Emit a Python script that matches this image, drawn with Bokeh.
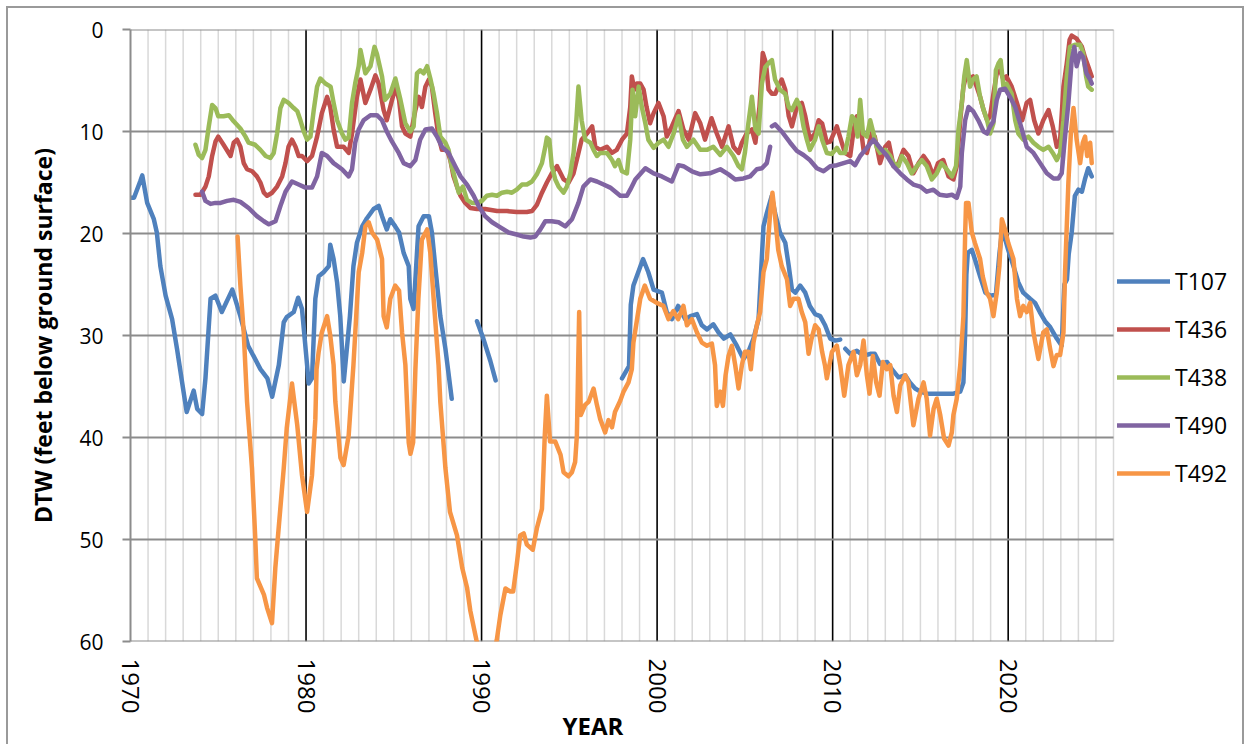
import math
import numpy as np
from bokeh.plotting import figure
from bokeh.models import Range1d, SingleIntervalTicker, Legend, LegendItem, Title
from bokeh.embed import file_html
from bokeh.resources import INLINE

nan = float("nan")

# ---------------- data ----------------
T107_year = [1970.0, 1970.2, 1970.55, 1970.67, 1970.95, 1971.33, 1971.5, 1971.7, 1972.0, 1972.37,
             1972.65, 1972.94, 1973.2, 1973.6, 1973.8, 1974.08, 1974.27, 1974.56, 1974.84, 1975.2,
             1975.8, 1976.26, 1976.7, 1977.4, 1977.8, 1978.07, 1978.45, 1978.73, 1978.9, 1979.3,
             1979.55, 1979.77, 1980.06, 1980.15, 1980.34, 1980.53, 1980.72, 1981.0, 1981.3, 1981.38,
             1981.57, 1981.77, 1981.95, 1982.15, 1982.5, 1982.7, 1982.9, 1983.2, 1983.47, 1983.85,
             1984.14, 1984.33, 1984.6, 1984.8, 1985.08, 1985.3, 1985.56, 1985.85, 1985.94, 1986.13,
             1986.41, 1986.7, 1987.0, 1987.17, 1987.36, 1987.65, 1987.94, 1988.3, nan,
             1989.74, 1990.1, 1990.5, 1990.8, nan,
             1998.0, 1998.4, 1998.5, 1998.65, 1999.2, 1999.5, 1999.8, 2000.27, 2000.55, 2000.84,
             2001.2, 2001.6, 2001.9, 2002.27, 2002.55, 2002.84, 2003.2, 2003.5, 2003.8, 2004.17,
             2004.54, 2004.92, 2005.2, 2005.49, 2005.78, 2005.9, 2006.06, 2006.25, 2006.53, 2006.72,
             2007.0, 2007.3, 2007.5, 2007.68, 2007.87, 2008.15, 2008.44, 2008.7, 2009.0, 2009.29,
             2009.57, 2009.86, 2010.15, 2010.43, nan,
             2010.72, 2011.0, 2011.38, 2011.76, 2012.14, 2012.4, 2012.7, 2013.1, 2013.37, 2013.75,
             2014.13, 2014.4, 2014.7, 2015.0, 2015.36, 2015.84, 2016.3, 2016.88, 2017.27, 2017.45,
             2017.55, 2017.62, 2017.7, 2017.93, 2018.1, 2018.4, 2018.7, 2018.97, 2019.3, 2019.5,
             2019.64, 2019.82, 2020.0, 2020.3, 2020.58, 2020.86, 2021.25, 2021.53, 2021.8, 2022.1,
             2022.4, 2022.77, 2023.05, 2023.2, 2023.35, 2023.45, 2023.62, 2023.8, 2024.0, 2024.2,
             2024.37, 2024.56, 2024.76]
T107_dtw = [16.5, 16.5, 14.9, 14.3, 17.0, 18.6, 19.9, 23.2, 26.1, 28.4,
            31.3, 34.6, 37.5, 35.4, 37.2, 37.7, 34.2, 26.4, 26.1, 27.7,
            25.5, 28.1, 31.0, 33.3, 34.2, 36.0, 32.9, 28.7, 28.2, 27.7,
            26.3, 27.4, 32.9, 34.7, 34.2, 26.4, 24.2, 23.8, 23.2, 21.1,
            22.5, 24.8, 28.1, 34.5, 28.1, 23.2, 20.9, 19.3, 18.5, 17.6,
            17.3, 18.3, 19.6, 18.6, 19.3, 19.9, 21.9, 23.2, 26.4, 27.4,
            19.3, 18.3, 18.3, 19.9, 23.2, 28.1, 31.3, 36.2, nan,
            28.6, 30.3, 32.5, 34.4, nan,
            34.2, 33.0, 27.0, 25.1, 22.5, 23.8, 25.5, 25.8, 27.7, 28.4,
            27.1, 28.4, 28.1, 27.9, 29.0, 29.4, 28.9, 29.7, 30.3, 29.9,
            31.0, 32.3, 31.6, 30.3, 28.4, 24.5, 19.3, 18.0, 16.3, 18.0,
            19.9, 20.9, 23.2, 25.5, 25.8, 25.1, 25.8, 27.1, 27.9, 28.1,
            29.0, 30.3, 30.5, 30.4, nan,
            31.3, 31.8, 31.5, 32.0, 31.8, 31.8, 32.8, 32.6, 33.3, 34.1,
            33.9, 34.6, 35.2, 35.5, 35.7, 35.7, 35.7, 35.7, 35.5, 34.6,
            29.7, 24.0, 21.9, 21.6, 22.5, 24.2, 25.8, 26.1, 26.0, 22.0,
            19.9, 20.5, 21.6, 23.2, 24.8, 25.8, 26.4, 26.8, 27.7, 28.6,
            29.2, 30.3, 31.0, 25.0, 24.5, 22.0, 19.9, 16.3, 15.7, 15.9,
            14.7, 13.6, 14.4]

T436_year = [1973.7, 1973.99, 1974.27, 1974.46, 1974.65, 1974.84, 1975.0, 1975.3, 1975.7, 1975.88,
             1976.07, 1976.26, 1976.45, 1976.64, 1976.93, 1977.2, 1977.4, 1977.6, 1977.78, 1978.07,
             1978.35, 1978.64, 1978.83, 1979.0, 1979.2, 1979.4, 1979.58, 1979.77, 1980.06, 1980.34,
             1980.63, 1980.9, 1981.2, 1981.38, 1981.57, 1981.77, 1982.14, 1982.43, 1982.62, 1982.9,
             1983.1, 1983.38, 1983.67, 1983.95, 1984.14, 1984.42, 1984.6, 1984.9, 1985.1, 1985.3,
             1985.47, 1985.66, 1985.94, 1986.23, 1986.42, 1986.6, 1986.8, 1987.0, 1987.17, 1987.36,
             1987.55, 1987.74, 1988.03, 1988.22, 1988.4, 1988.6, 1988.8, 1989.07, 1989.36, 1989.74,
             1990.2, 1990.88, 1991.45, 1992.0, 1992.58, 1992.87, 1993.15, 1993.44, 1993.72, 1994.0,
             1994.3, 1994.5, 1994.68, 1994.96, 1995.24, 1995.52, 1995.7, 1996.0, 1996.3, 1996.48,
             1996.76, 1997.14, 1997.43, 1997.7, 1998.0, 1998.28, 1998.47, 1998.56, 1998.7, 1998.85,
             1999.04, 1999.23, 1999.4, 1999.6, 1999.8, 2000.08, 2000.37, 2000.55, 2000.84, 2001.22,
             2001.5, 2001.8, 2002.17, 2002.46, 2002.73, 2003.1, 2003.4, 2003.7, 2004.07, 2004.35,
             2004.64, 2004.83, 2005.1, 2005.4, 2005.6, 2005.83, 2006.02, 2006.2, 2006.35, 2006.54,
             2006.73, 2006.9, 2007.1, 2007.3, 2007.5, 2007.68, 2007.96, 2008.24, 2008.44, 2008.7,
             2009.0, 2009.2, 2009.4, 2009.67, 2009.86, 2010.24, 2010.52, 2010.7, 2011.0, 2011.2,
             2011.38, 2011.57, 2011.76, 2011.95, 2012.23, 2012.4, 2012.7, 2013.0, 2013.2, 2013.47,
             2013.75, 2014.04, 2014.32, 2014.6, 2014.9, 2015.18, 2015.46, 2015.74, 2016.0, 2016.3,
             2016.6, 2016.88, 2017.07, 2017.27, 2017.45, 2017.64, 2017.83, 2018.0, 2018.2, 2018.4,
             2018.6, 2018.8, 2018.97, 2019.16, 2019.35, 2019.54, 2019.73, 2019.9, 2020.2, 2020.5,
             2020.8, 2021.05, 2021.25, 2021.48, 2021.72, 2022.0, 2022.3, 2022.54, 2022.77, 2022.96,
             2023.15, 2023.34, 2023.5, 2023.62, 2023.9, 2024.2, 2024.37, 2024.56, 2024.76]
T436_dtw = [16.2, 16.2, 15.4, 14.4, 12.4, 11.0, 10.5, 11.3, 12.4, 11.1,
            10.8, 11.5, 13.1, 13.7, 13.9, 14.4, 15.0, 16.0, 16.3, 16.0,
            15.4, 14.4, 13.1, 11.5, 10.8, 11.5, 12.4, 12.4, 12.9, 12.4,
            10.5, 8.2, 6.6, 7.6, 9.8, 11.5, 11.5, 12.1, 10.2, 6.6,
            4.9, 7.2, 5.9, 4.5, 5.3, 7.9, 8.9, 6.9, 5.6, 6.9,
            9.5, 10.2, 10.5, 7.9, 6.6, 7.6, 5.6, 4.9, 5.6, 8.2,
            10.5, 11.8, 11.8, 12.8, 14.4, 15.4, 16.3, 17.0, 17.5, 17.6,
            17.6, 17.8, 17.8, 17.9, 17.9, 17.8, 17.2, 16.0, 15.0, 14.1,
            13.4, 14.1, 14.7, 15.0, 14.1, 12.1, 10.8, 10.2, 9.5, 11.5,
            11.8, 11.5, 12.1, 11.8, 10.8, 10.2, 7.6, 4.6, 5.9, 5.3,
            5.3, 5.9, 7.6, 9.2, 8.2, 7.2, 8.5, 10.5, 9.5, 8.0,
            9.8, 10.8, 8.2, 9.2, 10.8, 8.7, 10.2, 11.5, 9.5, 11.5,
            12.1, 11.1, 10.2, 9.8, 11.1, 7.6, 2.3, 3.3, 5.9, 6.3,
            6.3, 5.6, 4.9, 5.9, 8.5, 9.5, 7.6, 7.2, 8.5, 10.8,
            10.2, 8.9, 9.2, 11.1, 11.0, 9.5, 11.1, 12.1, 12.4, 9.8,
            8.5, 9.2, 11.8, 12.1, 10.2, 10.5, 13.1, 11.5, 11.1, 13.4,
            13.1, 11.8, 12.4, 14.1, 13.1, 12.4, 13.1, 14.4, 13.1, 12.8,
            14.4, 14.7, 13.4, 8.9, 5.6, 4.3, 4.8, 4.6, 5.6, 6.6,
            7.9, 8.9, 8.5, 6.3, 4.3, 4.0, 4.9, 4.6, 5.6, 7.2,
            8.9, 7.2, 6.9, 8.9, 10.2, 8.9, 7.9, 9.5, 11.5, 10.8,
            5.6, 3.3, 1.0, 0.6, 0.9, 1.7, 2.7, 3.6, 4.6]

T438_year = [1973.7, 1973.89, 1974.08, 1974.27, 1974.46, 1974.65, 1974.84, 1975.0, 1975.3, 1975.6,
             1975.88, 1976.26, 1976.55, 1976.73, 1977.1, 1977.4, 1977.7, 1977.97, 1978.16, 1978.35,
             1978.54, 1978.73, 1979.0, 1979.3, 1979.5, 1979.68, 1979.87, 1980.06, 1980.25, 1980.44,
             1980.63, 1980.82, 1981.1, 1981.4, 1981.57, 1981.77, 1982.05, 1982.24, 1982.43, 1982.62,
             1982.8, 1983.0, 1983.1, 1983.38, 1983.67, 1983.9, 1984.04, 1984.33, 1984.5, 1984.8,
             1985.09, 1985.38, 1985.66, 1985.94, 1986.13, 1986.32, 1986.5, 1986.7, 1986.9, 1987.08,
             1987.27, 1987.46, 1987.65, 1987.94, 1988.12, 1988.3, 1988.5, 1988.7, 1988.94, 1989.17,
             1989.45, 1989.74, 1990.02, 1990.3, 1990.6, 1990.88, 1991.16, 1991.45, 1991.73, 1992.0,
             1992.3, 1992.58, 1992.87, 1993.15, 1993.44, 1993.63, 1993.72, 1993.86, 1994.0, 1994.2,
             1994.39, 1994.67, 1994.86, 1995.06, 1995.24, 1995.4, 1995.52, 1995.7, 1995.9, 1996.2,
             1996.38, 1996.57, 1996.76, 1997.14, 1997.43, 1997.6, 1997.8, 1998.0, 1998.28, 1998.47,
             1998.6, 1998.75, 1998.95, 1999.13, 1999.33, 1999.5, 1999.8, 2000.08, 2000.37, 2000.65,
             2000.94, 2001.22, 2001.47, 2001.7, 2002.07, 2002.46, 2002.84, 2003.2, 2003.6, 2003.97,
             2004.35, 2004.64, 2004.83, 2005.0, 2005.2, 2005.4, 2005.6, 2005.78, 2005.97, 2006.16,
             2006.35, 2006.54, 2006.72, 2007.0, 2007.3, 2007.5, 2007.68, 2007.96, 2008.15, 2008.34,
             2008.53, 2008.7, 2009.0, 2009.2, 2009.4, 2009.67, 2009.96, 2010.24, 2010.43, 2010.7,
             2010.9, 2011.1, 2011.28, 2011.42, 2011.57, 2011.73, 2011.95, 2012.14, 2012.33, 2012.5,
             2012.7, 2013.0, 2013.28, 2013.47, 2013.75, 2013.94, 2014.23, 2014.5, 2014.8, 2015.08,
             2015.36, 2015.65, 2015.93, 2016.2, 2016.5, 2016.8, 2017.03, 2017.17, 2017.36, 2017.5,
             2017.64, 2017.83, 2018.0, 2018.2, 2018.4, 2018.6, 2018.8, 2018.97, 2019.16, 2019.3,
             2019.45, 2019.57, 2019.73, 2019.9, 2020.2, 2020.4, 2020.58, 2020.86, 2021.15, 2021.44,
             2021.72, 2022.0, 2022.3, 2022.54, 2022.77, 2022.96, 2023.15, 2023.34, 2023.52, 2023.8,
             2024.1, 2024.27, 2024.44, 2024.56, 2024.76]
T438_dtw = [11.3, 12.3, 12.6, 11.8, 9.5, 7.4, 7.7, 8.5, 8.5, 8.4,
            9.0, 9.7, 10.5, 11.1, 11.3, 11.8, 12.4, 12.6, 12.1, 10.2,
            7.7, 6.9, 7.2, 7.7, 8.0, 8.9, 10.0, 10.8, 10.5, 7.9,
            5.6, 4.8, 5.3, 5.6, 7.2, 8.9, 10.2, 10.8, 10.6, 7.2,
            5.3, 3.6, 2.0, 4.3, 3.6, 1.7, 2.4, 4.6, 6.9, 6.3,
            4.8, 6.9, 9.2, 10.0, 9.5, 4.3, 4.0, 4.3, 3.6, 4.8,
            6.3, 8.2, 10.5, 11.1, 11.8, 13.4, 14.7, 16.0, 15.4, 16.7,
            17.0, 17.0, 16.8, 16.3, 16.2, 16.3, 16.0, 15.9, 16.0, 15.7,
            15.2, 15.2, 14.9, 14.2, 13.1, 11.5, 10.6, 10.8, 13.4, 14.7,
            15.4, 16.0, 15.4, 14.1, 12.1, 8.9, 5.6, 8.9, 10.8, 11.1,
            11.8, 12.4, 12.1, 12.1, 12.8, 13.4, 12.8, 13.9, 14.1, 10.8,
            5.9, 8.5, 5.6, 7.6, 9.2, 10.8, 11.6, 11.1, 10.8, 11.5,
            10.2, 8.5, 10.8, 11.5, 10.8, 11.8, 11.8, 11.5, 12.3, 11.5,
            12.4, 13.4, 13.7, 12.1, 9.2, 6.6, 9.8, 10.2, 5.3, 3.7,
            3.3, 3.0, 4.9, 5.9, 6.3, 7.6, 7.9, 6.9, 7.6, 9.5,
            10.8, 11.8, 10.8, 9.5, 10.8, 12.1, 12.2, 11.6, 12.1, 12.1,
            10.5, 8.5, 8.9, 10.5, 6.9, 10.2, 10.5, 8.9, 10.2, 11.5,
            12.1, 11.8, 12.4, 13.1, 13.4, 12.4, 13.1, 14.1, 13.4, 12.8,
            13.4, 14.7, 14.1, 13.1, 13.7, 14.4, 13.4, 9.8, 7.2, 4.6,
            3.0, 5.6, 4.9, 4.6, 6.6, 7.9, 8.9, 10.2, 9.2, 4.0,
            3.3, 3.0, 5.6, 5.3, 6.3, 8.9, 10.2, 10.8, 10.5, 11.1,
            11.5, 11.8, 11.5, 12.1, 12.8, 12.1, 8.9, 4.6, 1.7, 1.5,
            1.5, 2.3, 4.6, 5.6, 5.9]

T490_year = [1974.08, 1974.27, 1974.56, 1974.84, 1975.13, 1975.5, 1975.88, 1976.26, 1976.73, 1977.2,
             1977.6, 1977.88, 1978.26, 1978.54, 1978.83, 1979.2, 1979.58, 1979.97, 1980.34, 1980.63,
             1980.9, 1981.2, 1981.57, 1982.05, 1982.43, 1982.62, 1982.8, 1983.0, 1983.28, 1983.67,
             1984.04, 1984.33, 1984.6, 1984.9, 1985.28, 1985.56, 1985.94, 1986.23, 1986.5, 1986.8,
             1987.17, 1987.46, 1987.74, 1988.12, 1988.5, 1988.8, 1989.17, 1989.55, 1989.83, 1990.2,
             1990.6, 1991.07, 1991.54, 1992.0, 1992.4, 1992.78, 1993.06, 1993.35, 1993.63, 1994.0,
             1994.39, 1994.77, 1995.15, 1995.52, 1995.8, 1996.2, 1996.57, 1996.95, 1997.33, 1997.9,
             1998.28, 1998.47, 1998.76, 1999.33, 1999.8, 2000.27, 2000.84, 2001.22, 2001.5, 2001.98,
             2002.46, 2003.0, 2003.6, 2004.07, 2004.45, 2004.92, 2005.3, 2005.68, 2005.97, 2006.25,
             2006.44, nan,
             2006.54, 2006.72, 2007.1, 2007.58, 2007.96, 2008.34, 2008.7, 2009.1, 2009.48, 2009.86,
             2010.24, 2010.62, 2011.0, 2011.28, 2011.57, 2011.95, 2012.33, 2012.7, 2013.1, 2013.47,
             2013.85, 2014.23, 2014.6, 2014.99, 2015.36, 2015.74, 2016.1, 2016.5, 2016.8, 2017.07,
             2017.27, 2017.36, 2017.55, 2017.74, 2018.0, 2018.3, 2018.6, 2018.8, 2018.97, 2019.16,
             2019.35, 2019.54, 2019.82, 2020.1, 2020.4, 2020.68, 2021.06, 2021.44, 2021.82, 2022.2,
             2022.58, 2022.86, 2023.05, 2023.24, 2023.43, 2023.62, 2023.77, 2023.9, 2024.1, 2024.27,
             2024.46, 2024.67, 2024.76]
T490_dtw = [15.9, 16.8, 17.1, 17.0, 17.0, 16.8, 16.7, 16.9, 17.5, 18.3,
            18.8, 19.1, 18.8, 17.3, 15.9, 14.9, 15.2, 15.5, 15.5, 14.4,
            12.1, 12.4, 13.1, 13.7, 14.4, 13.7, 11.1, 9.8, 8.9, 8.4,
            8.4, 8.9, 10.0, 11.0, 12.1, 13.1, 13.4, 12.8, 10.8, 9.8,
            9.7, 10.5, 11.5, 12.1, 13.4, 14.4, 15.2, 16.3, 17.3, 18.3,
            18.9, 19.4, 19.9, 20.1, 20.3, 20.4, 20.3, 19.6, 18.8, 18.8,
            18.9, 19.3, 18.6, 17.0, 15.4, 14.7, 14.9, 15.2, 15.5, 16.3,
            16.3, 15.7, 14.7, 13.6, 14.1, 14.4, 14.9, 13.3, 13.4, 13.9,
            14.2, 14.1, 13.7, 14.2, 14.7, 14.6, 14.4, 13.7, 13.6, 13.1,
            11.5, nan,
            9.5, 9.3, 10.0, 11.1, 11.9, 12.3, 12.8, 13.6, 13.9, 13.4,
            13.3, 13.1, 12.9, 13.3, 12.4, 11.6, 10.8, 11.6, 12.4, 13.4,
            14.1, 14.7, 15.2, 15.4, 15.9, 15.7, 16.2, 16.3, 16.2, 16.5,
            15.4, 12.1, 8.9, 7.6, 8.0, 8.9, 10.0, 10.2, 9.5, 9.0,
            6.9, 5.9, 5.8, 6.6, 7.6, 9.2, 11.5, 12.1, 13.1, 14.1,
            14.6, 14.6, 14.1, 10.5, 7.2, 3.0, 1.7, 3.6, 2.3, 2.7,
            4.3, 4.9, 5.3]

T492_year = [1976.1, 1976.26, 1976.45, 1976.64, 1976.92, 1977.1, 1977.2, 1977.6, 1977.78, 1978.06,
             1978.25, 1978.44, 1978.73, 1978.9, 1979.2, 1979.5, 1979.77, 1980.06, 1980.34, 1980.53,
             1980.6, 1980.72, 1980.9, 1981.2, 1981.38, 1981.57, 1981.67, 1981.96, 1982.14, 1982.43,
             1982.62, 1982.7, 1983.0, 1983.2, 1983.38, 1983.57, 1983.76, 1984.05, 1984.33, 1984.42,
             1984.6, 1984.8, 1985.08, 1985.3, 1985.47, 1985.66, 1985.85, 1985.95, 1986.1, 1986.23,
             1986.4, 1986.6, 1986.9, 1987.08, 1987.27, 1987.55, 1987.65, 1987.94, 1988.2, 1988.6,
             1988.9, 1989.17, 1989.36, 1989.7, 1990.0, 1990.5, 1990.87, 1991.07, 1991.36, 1991.64,
             1991.8, 1992.0, 1992.2, 1992.4, 1992.58, 1992.92, 1993.15, 1993.44, 1993.53, 1993.6,
             1993.72, 1993.9, 1994.2, 1994.5, 1994.67, 1994.95, 1995.15, 1995.33, 1995.43, 1995.5,
             1995.56, 1995.65, 1995.9, 1996.1, 1996.38, 1996.57, 1996.76, 1997.04, 1997.23, 1997.43,
             1997.6, 1997.9, 1998.09, 1998.37, 1998.56, 1998.65, 1999.04, 1999.3, 1999.6, 1999.98,
             2000.36, 2000.65, 2000.93, 2001.2, 2001.5, 2001.7, 2001.98, 2002.27, 2002.55, 2002.84,
             2003.12, 2003.3, 2003.4, 2003.6, 2003.75, 2003.9, 2004.07, 2004.26, 2004.45, 2004.64,
             2004.83, 2005.0, 2005.2, 2005.34, 2005.49, 2005.68, 2005.87, 2006.06, 2006.25, 2006.44,
             2006.57, 2006.72, 2006.9, 2007.1, 2007.4, 2007.58, 2007.77, 2008.05, 2008.24, 2008.44,
             2008.63, 2008.8, 2009.0, 2009.2, 2009.4, 2009.57, 2009.67, 2009.96, 2010.24, 2010.43,
             2010.66, 2010.9, 2011.19, 2011.38, 2011.57, 2011.76, 2011.95, 2012.1, 2012.29, 2012.48,
             2012.67, 2012.86, 2013.08, 2013.28, 2013.47, 2013.66, 2013.85, 2014.13, 2014.32, 2014.6,
             2014.89, 2015.18, 2015.36, 2015.55, 2015.75, 2015.93, 2016.13, 2016.35, 2016.6, 2016.79,
             2016.88, 2017.07, 2017.27, 2017.45, 2017.55, 2017.6, 2017.74, 2017.93, 2018.1, 2018.4,
             2018.55, 2018.78, 2018.97, 2019.16, 2019.35, 2019.5, 2019.64, 2019.82, 2020.0, 2020.3,
             2020.5, 2020.68, 2020.86, 2021.06, 2021.25, 2021.44, 2021.72, 2022.0, 2022.2, 2022.39,
             2022.58, 2022.77, 2022.96, 2023.15, 2023.24, 2023.43, 2023.57, 2023.72, 2023.9, 2024.1,
             2024.25, 2024.38, 2024.5, 2024.67, 2024.76]
T492_dtw = [20.3, 25.1, 29.7, 36.5, 43.0, 49.6, 53.8, 55.4, 56.7, 58.2,
            52.8, 48.9, 43.0, 39.1, 34.7, 38.8, 43.7, 47.3, 43.7, 38.2,
            33.3, 31.6, 29.7, 28.1, 30.0, 32.9, 36.5, 42.0, 42.7, 39.8,
            34.9, 32.9, 23.8, 21.9, 19.3, 18.9, 19.9, 20.6, 22.5, 28.1,
            29.2, 26.4, 25.1, 25.6, 29.7, 32.9, 40.5, 41.6, 40.5, 33.3,
            26.4, 20.6, 19.6, 21.9, 26.4, 32.9, 36.5, 43.0, 47.3, 49.6,
            52.8, 54.7, 57.0, 59.8, 62.0, 63.0, 59.8, 57.4, 54.8, 55.1,
            55.1, 52.5, 49.6, 49.4, 50.5, 51.0, 48.9, 47.0, 43.0, 39.8,
            35.9, 40.4, 40.4, 41.7, 43.4, 43.8, 43.4, 42.4, 39.8, 33.3,
            27.7, 37.8, 36.8, 36.5, 35.2, 36.8, 38.2, 39.5, 38.3, 39.0,
            37.5, 36.4, 35.5, 34.6, 33.3, 30.7, 26.4, 25.1, 26.4, 26.8,
            27.1, 28.4, 27.6, 28.4, 27.1, 29.0, 28.4, 29.7, 30.7, 31.0,
            30.8, 32.9, 36.9, 35.5, 36.9, 33.9, 32.0, 31.0, 32.9, 35.2,
            32.9, 31.6, 31.6, 33.3, 30.7, 29.0, 27.7, 23.8, 22.5, 18.0,
            16.0, 18.3, 21.6, 23.2, 24.5, 27.1, 26.4, 26.4, 27.7, 28.7,
            31.8, 30.3, 29.0, 29.4, 31.6, 33.0, 34.2, 31.6, 31.0, 32.9,
            35.9, 32.9, 31.6, 33.9, 32.9, 30.5, 33.9, 35.7, 32.0, 34.6,
            35.9, 32.6, 33.3, 32.9, 35.9, 37.5, 34.9, 33.9, 34.6, 38.8,
            36.2, 34.6, 36.2, 39.8, 37.2, 36.2, 37.8, 40.1, 40.8, 39.5,
            37.8, 36.2, 32.9, 28.1, 20.0, 17.0, 17.0, 19.9, 20.9, 22.5,
            24.2, 25.8, 26.4, 28.1, 25.8, 23.2, 18.6, 19.6, 20.9, 22.5,
            26.4, 28.1, 27.1, 27.7, 26.8, 29.7, 32.3, 29.7, 29.4, 31.3,
            33.0, 31.9, 31.9, 29.7, 23.8, 15.0, 10.2, 7.7, 10.8, 13.1,
            11.1, 10.5, 12.4, 11.1, 13.1]

series_names = ["T107", "T436", "T438", "T490", "T492"]
series_colors = ["#4F81BD", "#C0504D", "#9BBB59", "#8064A2", "#F79646"]
series_years = [T107_year, T436_year, T438_year, T490_year, T492_year]
series_dtw = [T107_dtw, T436_dtw, T438_dtw, T490_dtw, T492_dtw]

# axis / grid definitions
x_start, x_end = 1970, 2026
y_top, y_bottom = 0, 60
y_grid_values = [0, 10, 20, 30, 40, 50, 60]
decade_values = [1980, 1990, 2000, 2010, 2020]
year_minor_values = [y for y in range(1971, 2027) if y % 10 != 0]

FONT = "Open Sans"
GRAY = "#8c8c8c"

# layout (pixels)
FRAME_W_DATA = 983            # width of the 1970-2026 data area
LEGEND_ROOM = 127             # extra frame room at right that holds the legend
px_per_year = FRAME_W_DATA / (x_end - x_start)
x_view_end = x_end + LEGEND_ROOM / px_per_year

# ---------------- figure ----------------
p = figure(width=1238, height=738,
           x_range=Range1d(x_start, x_view_end), y_range=Range1d(y_bottom, y_top),
           output_backend="svg", toolbar_location=None,
           min_border_left=122, min_border_right=6, min_border_top=21, min_border_bottom=105)
p.styles = {"margin-left": "6px", "margin-top": "6px",
            "border-top": "2px solid #9a9a9a", "border-left": "2px solid #9a9a9a",
            "border-right": "2px solid #9a9a9a"}
p.outline_line_color = None
p.background_fill_color = "white"
p.border_fill_color = "white"
p.xgrid.visible = False
p.ygrid.visible = False

# gridlines (behind the data)
p.segment(x0=year_minor_values, x1=year_minor_values,
          y0=[y_top] * len(year_minor_values), y1=[y_bottom] * len(year_minor_values),
          line_color="#d9d9d9", line_width=1.5)
p.segment(x0=decade_values, x1=decade_values,
          y0=[y_top] * len(decade_values), y1=[y_bottom] * len(decade_values),
          line_color="black", line_width=1.6)
p.segment(x0=[x_start] * len(y_grid_values), x1=[x_end] * len(y_grid_values),
          y0=y_grid_values, y1=y_grid_values, line_color=GRAY, line_width=2.2)

# x axis
p.xaxis.ticker = SingleIntervalTicker(interval=10)
p.xaxis.bounds = (x_start, x_end)
p.xaxis.axis_line_color = None
p.xaxis.major_tick_line_color = None
p.xaxis.minor_tick_line_color = None
p.xaxis.major_label_orientation = -math.pi / 2
p.xaxis.major_label_text_font = FONT
p.xaxis.major_label_text_font_size = "24px"
p.xaxis.major_label_text_color = "black"
p.xaxis.major_label_standoff = 11

# x axis title, placed under the tick labels
x_title = Title(text="YEAR", align="left", offset=432, vertical_align="top", standoff=-16,
                text_font=FONT, text_font_style="bold", text_font_size="24px",
                text_color="black")
p.add_layout(x_title, "below")

# y axis
p.yaxis.ticker = SingleIntervalTicker(interval=10)
p.yaxis.axis_line_color = GRAY
p.yaxis.axis_line_width = 2
p.yaxis.major_tick_line_color = GRAY
p.yaxis.major_tick_line_width = 2
p.yaxis.major_tick_in = 0
p.yaxis.major_tick_out = 8
p.yaxis.minor_tick_line_color = None
p.yaxis.major_label_text_font = FONT
p.yaxis.major_label_text_font_size = "21px"
p.yaxis.major_label_text_color = "black"
p.yaxis.major_label_standoff = 19
p.yaxis.axis_label = "DTW (feet below ground surface)"
p.yaxis.axis_label_text_font = FONT
p.yaxis.axis_label_text_font_style = "bold"
p.yaxis.axis_label_text_font_size = "23px"
p.yaxis.axis_label_text_color = "black"
p.yaxis.axis_label_standoff = 17

renderers = []
for name, color, yrs, dtw in zip(series_names, series_colors, series_years, series_dtw):
    r = p.line(np.array(yrs, dtype=float), np.array(dtw, dtype=float),
               line_color=color, line_width=4.5, line_join="round", line_cap="round")
    renderers.append(r)

legend = Legend(items=[LegendItem(label=n, renderers=[r]) for n, r in zip(series_names, renderers)],
                location=(FRAME_W_DATA + 4, 152))
legend.label_text_font = FONT
legend.label_text_font_size = "23px"
legend.label_text_color = "black"
legend.glyph_width = 53
legend.glyph_height = 30
legend.label_height = 30
legend.label_standoff = 5
legend.spacing = 16
legend.padding = 0
legend.margin = 0
legend.border_line_color = None
legend.background_fill_alpha = 0
p.add_layout(legend)

open("out.html", "w").write(file_html(p, INLINE))
